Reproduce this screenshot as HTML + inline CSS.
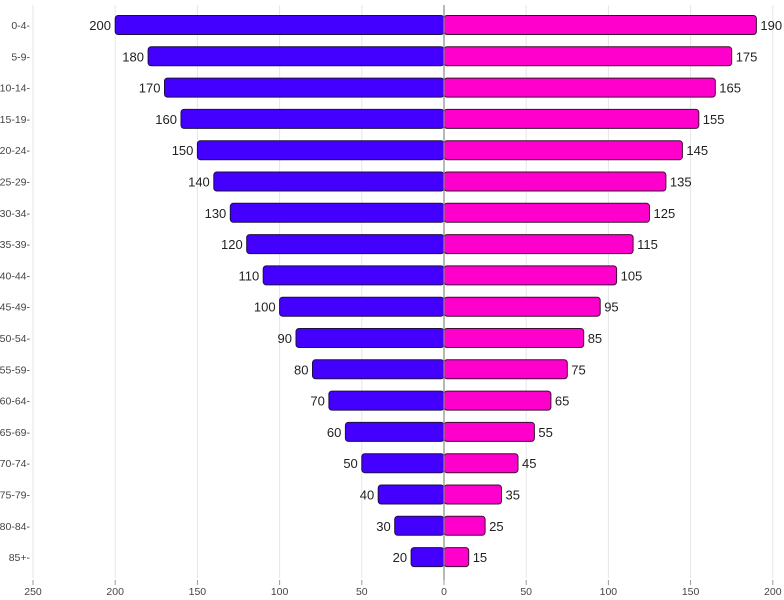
<!DOCTYPE html>
<html><head><meta charset="utf-8"><style>
html,body{margin:0;padding:0;background:#fff}
svg{display:block}
text{font-family:"Liberation Sans",sans-serif}
.v{font-size:13px;fill:#222}
.y{font-size:10.5px;fill:#444}
.x{font-size:10.5px;fill:#444}
.g{stroke:#e6e6e6;stroke-width:1}
.L{fill:#4400ff;stroke:#1d1040;stroke-width:1}
.R{fill:#ff00cc;stroke:#3a1030;stroke-width:1}
</style></head><body>
<svg width="784" height="600" viewBox="0 0 784 600">
<g class="g">
<line x1="33" y1="5" x2="33" y2="578"/><line x1="115.2" y1="5" x2="115.2" y2="578"/><line x1="197.4" y1="5" x2="197.4" y2="578"/><line x1="279.6" y1="5" x2="279.6" y2="578"/><line x1="361.8" y1="5" x2="361.8" y2="578"/><line x1="526.2" y1="5" x2="526.2" y2="578"/><line x1="608.4" y1="5" x2="608.4" y2="578"/><line x1="690.6" y1="5" x2="690.6" y2="578"/><line x1="772.8" y1="5" x2="772.8" y2="578"/>
</g>
<g stroke="#999" stroke-width="1">
<line x1="33" y1="580" x2="33" y2="585"/><line x1="115.2" y1="580" x2="115.2" y2="585"/><line x1="197.4" y1="580" x2="197.4" y2="585"/><line x1="279.6" y1="580" x2="279.6" y2="585"/><line x1="361.8" y1="580" x2="361.8" y2="585"/><line x1="444" y1="580" x2="444" y2="585"/><line x1="526.2" y1="580" x2="526.2" y2="585"/><line x1="608.4" y1="580" x2="608.4" y2="585"/><line x1="690.6" y1="580" x2="690.6" y2="585"/><line x1="772.8" y1="580" x2="772.8" y2="585"/>
</g>
<g class="x" text-anchor="middle">
<text x="33" y="595">250</text><text x="115.2" y="595">200</text><text x="197.4" y="595">150</text><text x="279.6" y="595">100</text><text x="361.8" y="595">50</text><text x="444" y="595">0</text><text x="526.2" y="595">50</text><text x="608.4" y="595">100</text><text x="690.6" y="595">150</text><text x="772.8" y="595">200</text>
</g>
<g class="y" text-anchor="end">
<text x="30" y="29">0-4-</text><text x="30" y="60.3">5-9-</text><text x="30" y="91.6">10-14-</text><text x="30" y="122.9">15-19-</text><text x="30" y="154.2">20-24-</text><text x="30" y="185.5">25-29-</text><text x="30" y="216.8">30-34-</text><text x="30" y="248.1">35-39-</text><text x="30" y="279.4">40-44-</text><text x="30" y="310.7">45-49-</text><text x="30" y="342">50-54-</text><text x="30" y="373.3">55-59-</text><text x="30" y="404.6">60-64-</text><text x="30" y="435.9">65-69-</text><text x="30" y="467.2">70-74-</text><text x="30" y="498.5">75-79-</text><text x="30" y="529.8">80-84-</text><text x="30" y="561.1">85+-</text>
</g>
<g>
<rect class="L" rx="3" x="115.2" y="15.5" width="328.8" height="19"/>
<rect class="L" rx="3" x="148.1" y="46.8" width="295.9" height="19"/>
<rect class="L" rx="3" x="164.5" y="78.1" width="279.5" height="19"/>
<rect class="L" rx="3" x="181" y="109.4" width="263" height="19"/>
<rect class="L" rx="3" x="197.4" y="140.7" width="246.6" height="19"/>
<rect class="L" rx="3" x="213.8" y="172" width="230.2" height="19"/>
<rect class="L" rx="3" x="230.3" y="203.3" width="213.7" height="19"/>
<rect class="L" rx="3" x="246.7" y="234.6" width="197.3" height="19"/>
<rect class="L" rx="3" x="263.2" y="265.9" width="180.8" height="19"/>
<rect class="L" rx="3" x="279.6" y="297.2" width="164.4" height="19"/>
<rect class="L" rx="3" x="296" y="328.5" width="148" height="19"/>
<rect class="L" rx="3" x="312.5" y="359.8" width="131.5" height="19"/>
<rect class="L" rx="3" x="328.9" y="391.1" width="115.1" height="19"/>
<rect class="L" rx="3" x="345.4" y="422.4" width="98.6" height="19"/>
<rect class="L" rx="3" x="361.8" y="453.7" width="82.2" height="19"/>
<rect class="L" rx="3" x="378.2" y="485" width="65.8" height="19"/>
<rect class="L" rx="3" x="394.7" y="516.3" width="49.3" height="19"/>
<rect class="L" rx="3" x="411.1" y="547.6" width="32.9" height="19"/>
</g>
<g>
<rect class="R" rx="3" x="444" y="15.5" width="312.4" height="19"/>
<rect class="R" rx="3" x="444" y="46.8" width="287.7" height="19"/>
<rect class="R" rx="3" x="444" y="78.1" width="271.3" height="19"/>
<rect class="R" rx="3" x="444" y="109.4" width="254.8" height="19"/>
<rect class="R" rx="3" x="444" y="140.7" width="238.4" height="19"/>
<rect class="R" rx="3" x="444" y="172" width="221.9" height="19"/>
<rect class="R" rx="3" x="444" y="203.3" width="205.5" height="19"/>
<rect class="R" rx="3" x="444" y="234.6" width="189.1" height="19"/>
<rect class="R" rx="3" x="444" y="265.9" width="172.6" height="19"/>
<rect class="R" rx="3" x="444" y="297.2" width="156.2" height="19"/>
<rect class="R" rx="3" x="444" y="328.5" width="139.7" height="19"/>
<rect class="R" rx="3" x="444" y="359.8" width="123.3" height="19"/>
<rect class="R" rx="3" x="444" y="391.1" width="106.9" height="19"/>
<rect class="R" rx="3" x="444" y="422.4" width="90.4" height="19"/>
<rect class="R" rx="3" x="444" y="453.7" width="74" height="19"/>
<rect class="R" rx="3" x="444" y="485" width="57.5" height="19"/>
<rect class="R" rx="3" x="444" y="516.3" width="41.1" height="19"/>
<rect class="R" rx="3" x="444" y="547.6" width="24.7" height="19"/>
</g>
<line x1="444" y1="5" x2="444" y2="580" stroke="#888" stroke-width="1.2"/>
<g class="v" text-anchor="end">
<text x="111" y="30">200</text><text x="144" y="61.3">180</text><text x="160.5" y="92.6">170</text><text x="177" y="123.9">160</text><text x="193.4" y="155.2">150</text><text x="209.8" y="186.5">140</text><text x="226.3" y="217.8">130</text><text x="242.7" y="249.1">120</text><text x="259.2" y="280.4">110</text><text x="275.6" y="311.7">100</text><text x="292" y="343">90</text><text x="308.5" y="374.3">80</text><text x="324.9" y="405.6">70</text><text x="341.4" y="436.9">60</text><text x="357.8" y="468.2">50</text><text x="374.2" y="499.5">40</text><text x="390.7" y="530.8">30</text><text x="407.1" y="562.1">20</text>
</g>
<g class="v">
<text x="760.4" y="30">190</text><text x="735.7" y="61.3">175</text><text x="719.3" y="92.6">165</text><text x="702.8" y="123.9">155</text><text x="686.4" y="155.2">145</text><text x="669.9" y="186.5">135</text><text x="653.5" y="217.8">125</text><text x="637.1" y="249.1">115</text><text x="620.6" y="280.4">105</text><text x="604.2" y="311.7">95</text><text x="587.7" y="343">85</text><text x="571.3" y="374.3">75</text><text x="554.9" y="405.6">65</text><text x="538.4" y="436.9">55</text><text x="522" y="468.2">45</text><text x="505.5" y="499.5">35</text><text x="489.1" y="530.8">25</text><text x="472.7" y="562.1">15</text>
</g>
</svg>
</body></html>
